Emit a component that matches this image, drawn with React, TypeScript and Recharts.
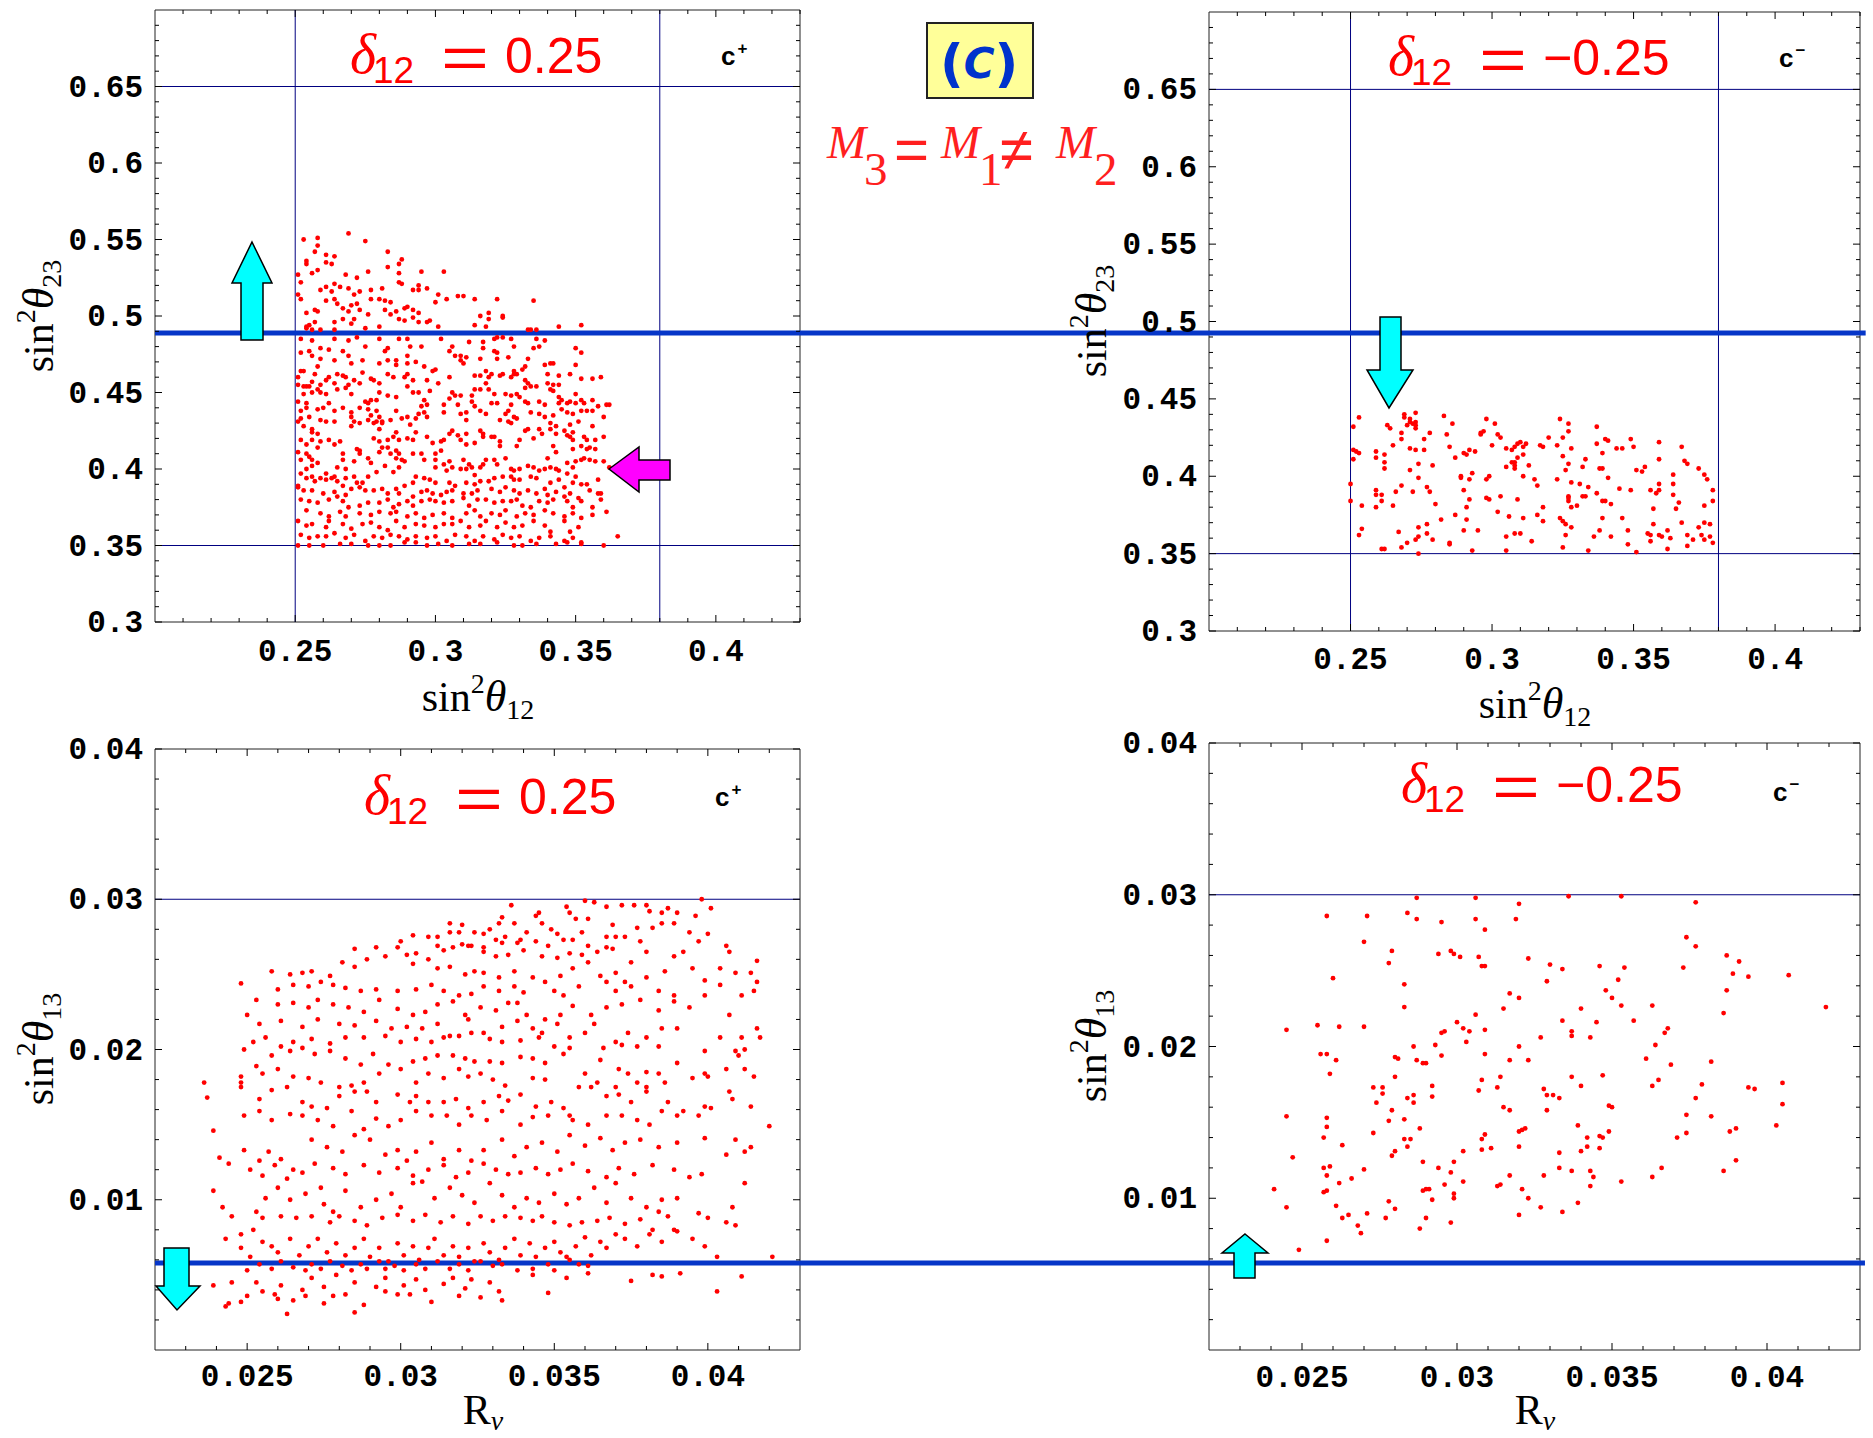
import React from 'react';
import { ScatterChart, Scatter, XAxis, YAxis, ReferenceLine, ReferenceArea } from 'recharts';

// sin^2(theta12) vs sin^2(theta23), delta12 = +0.25 (c+)
const tlPoints: [number, number][] = [
  [0.253,0.550],[0.258,0.551],[0.269,0.554],[0.275,0.549],[0.258,0.546],[0.257,0.542],[0.283,0.542],[0.261,0.540],[0.264,0.539],
  [0.254,0.536],[0.254,0.534],[0.261,0.535],[0.263,0.534],[0.258,0.530],[0.256,0.528],[0.276,0.529],[0.283,0.532],[0.287,0.534],[0.288,0.537],[0.287,0.528],[0.295,0.529],[0.303,0.529],[0.251,0.527],[0.252,0.522],[0.268,0.527],[0.272,0.525],[0.259,0.517],[0.261,0.519],[0.263,0.516],[0.264,0.521],[0.266,0.519],[0.269,0.518],[0.273,0.516],[0.277,0.517],[0.281,0.518],[0.287,0.522],[0.288,0.521],[0.292,0.517],[0.294,0.517],[0.294,0.520],[0.297,0.518],[0.271,0.514],
  [0.251,0.514],[0.252,0.511],[0.254,0.502],[0.257,0.504],[0.258,0.503],[0.261,0.510],[0.264,0.511],[0.265,0.508],[0.267,0.505],[0.269,0.503],[0.270,0.507],[0.272,0.508],[0.277,0.511],[0.280,0.511],[0.282,0.510],[0.284,0.509],[0.282,0.504],[0.284,0.501],[0.286,0.503],[0.289,0.505],[0.290,0.506],[0.292,0.504],[0.287,0.498],[0.289,0.497],[0.294,0.502],[0.297,0.496],[0.298,0.497],[0.300,0.509],[0.301,0.514],[0.304,0.511],[0.308,0.513],[0.310,0.513],[0.314,0.511],[0.322,0.511],[0.335,0.510],[0.316,0.500],[0.319,0.502],[0.319,0.498],[0.324,0.500],[0.324,0.499],[0.271,0.498],[0.267,0.498],[0.264,0.496],[0.270,0.495],[0.273,0.504],[0.276,0.501],[0.257,0.496],[0.254,0.493],[0.292,0.499],
  [0.255,0.494],[0.254,0.492],[0.256,0.491],[0.259,0.491],[0.264,0.491],[0.275,0.492],[0.280,0.493],[0.294,0.496],[0.301,0.493],[0.314,0.494],[0.318,0.493],[0.333,0.491],[0.336,0.491],[0.344,0.493],[0.352,0.494],[0.334,0.491],[0.252,0.485],[0.256,0.484],[0.255,0.477],[0.256,0.474],[0.259,0.479],[0.264,0.485],[0.269,0.484],[0.272,0.486],[0.275,0.480],[0.280,0.485],[0.282,0.477],[0.283,0.479],[0.287,0.485],[0.290,0.485],[0.291,0.480],[0.295,0.480],[0.302,0.485],[0.306,0.480],[0.312,0.483],[0.317,0.483],[0.321,0.485],[0.322,0.486],[0.324,0.486],[0.327,0.485],[0.328,0.480],[0.317,0.479],[0.321,0.477],[0.336,0.485],[0.339,0.484],[0.337,0.480],[0.335,0.479],[0.350,0.479],[0.352,0.476],[0.307,0.474],[0.309,0.474],[0.305,0.477],[0.262,0.478],[0.267,0.477],[0.252,0.476],
  [0.259,0.472],[0.264,0.471],[0.269,0.474],[0.270,0.469],[0.274,0.471],[0.280,0.469],[0.283,0.471],[0.286,0.471],[0.286,0.468],[0.290,0.474],[0.290,0.469],[0.293,0.470],[0.296,0.467],[0.300,0.465],[0.299,0.464],[0.309,0.471],[0.310,0.469],[0.311,0.473],[0.316,0.472],[0.322,0.476],[0.322,0.472],[0.326,0.473],[0.333,0.472],[0.332,0.467],[0.331,0.465],[0.328,0.464],[0.329,0.462],[0.339,0.468],[0.341,0.469],[0.342,0.469],[0.350,0.468],[0.252,0.464],[0.251,0.460],[0.253,0.464],[0.258,0.467],[0.257,0.462],[0.265,0.462],[0.262,0.460],[0.267,0.461],[0.268,0.460],[0.271,0.458],[0.273,0.456],[0.274,0.463],[0.277,0.459],[0.278,0.458],[0.280,0.456],[0.283,0.462],[0.285,0.460],[0.289,0.460],[0.290,0.462],[0.292,0.458],[0.297,0.458],[0.301,0.456],[0.305,0.460],[0.314,0.461],[0.316,0.461],[0.318,0.464],[0.319,0.460],[0.320,0.462],[0.323,0.461],[0.324,0.462],[0.327,0.460],[0.328,0.462],[0.332,0.458],[0.333,0.456],[0.332,0.453],[0.340,0.462],[0.344,0.461],[0.348,0.462],[0.352,0.459],[0.356,0.459],[0.359,0.460],[0.340,0.456],[0.342,0.455],[0.344,0.455],[0.251,0.455],[0.253,0.454],[0.256,0.457],[0.255,0.454],[0.261,0.458],[0.259,0.455],[0.264,0.456],[0.269,0.455],
  [0.254,0.454],[0.253,0.449],[0.256,0.450],[0.258,0.452],[0.259,0.450],[0.261,0.449],[0.265,0.452],[0.268,0.453],[0.270,0.449],[0.275,0.444],[0.276,0.443],[0.277,0.445],[0.279,0.445],[0.280,0.450],[0.283,0.448],[0.286,0.447],[0.290,0.454],[0.292,0.450],[0.294,0.450],[0.296,0.445],[0.297,0.442],[0.298,0.451],[0.306,0.450],[0.307,0.448],[0.309,0.448],[0.313,0.448],[0.314,0.452],[0.316,0.452],[0.318,0.456],[0.319,0.452],[0.321,0.449],[0.325,0.449],[0.327,0.448],[0.329,0.449],[0.330,0.447],[0.334,0.454],[0.336,0.454],[0.337,0.444],[0.341,0.452],[0.342,0.451],[0.344,0.447],[0.345,0.445],[0.347,0.443],[0.348,0.444],[0.350,0.449],[0.352,0.445],[0.353,0.443],[0.356,0.445],[0.358,0.441],[0.361,0.442],[0.251,0.444],[0.252,0.438],[0.254,0.443],[0.254,0.440],[0.258,0.439],[0.260,0.440],[0.262,0.443],[0.264,0.438],[0.267,0.440],[0.270,0.437],[0.273,0.440],[0.276,0.439],[0.277,0.435],[0.280,0.434],[0.279,0.438],[0.281,0.431],[0.284,0.432],[0.286,0.438],[0.288,0.433],[0.290,0.434],[0.293,0.433],[0.294,0.436],[0.296,0.437],[0.295,0.441],[0.297,0.434],[0.303,0.442],[0.303,0.437],[0.305,0.446],[0.308,0.442],[0.309,0.436],[0.311,0.437],[0.311,0.432],[0.313,0.444],[0.314,0.441],[0.316,0.438],[0.318,0.436],[0.320,0.443],[0.322,0.443],[0.323,0.432],[0.325,0.436],[0.327,0.442],[0.326,0.438],[0.328,0.434],[0.329,0.433],[0.332,0.444],[0.333,0.443],[0.334,0.437],[0.337,0.436],[0.339,0.442],[0.339,0.434],[0.342,0.435],[0.344,0.443],[0.345,0.439],[0.347,0.437],[0.349,0.436],[0.350,0.443],[0.352,0.438],[0.354,0.438],[0.356,0.438],[0.360,0.434],[0.362,0.442],[0.252,0.433],[0.255,0.434],[0.259,0.432],[0.261,0.431],[0.264,0.431],[0.270,0.434],[0.273,0.430],[0.276,0.432],[0.279,0.431],[0.281,0.430],
  [0.251,0.431],[0.253,0.428],[0.256,0.426],[0.256,0.424],[0.258,0.423],[0.256,0.419],[0.259,0.418],[0.258,0.414],[0.254,0.416],[0.252,0.419],[0.251,0.411],[0.254,0.410],[0.262,0.419],[0.264,0.416],[0.266,0.418],[0.270,0.428],[0.271,0.431],[0.278,0.430],[0.280,0.426],[0.278,0.420],[0.280,0.418],[0.283,0.419],[0.283,0.414],[0.285,0.421],[0.286,0.424],[0.287,0.419],[0.290,0.420],[0.291,0.429],[0.293,0.424],[0.292,0.419],[0.297,0.421],[0.299,0.417],[0.302,0.418],[0.303,0.419],[0.305,0.423],[0.306,0.425],[0.308,0.422],[0.311,0.423],[0.309,0.419],[0.311,0.416],[0.314,0.417],[0.316,0.425],[0.317,0.423],[0.317,0.421],[0.320,0.421],[0.321,0.421],[0.323,0.418],[0.323,0.415],[0.326,0.431],[0.327,0.430],[0.329,0.415],[0.330,0.419],[0.332,0.425],[0.333,0.426],[0.335,0.420],[0.338,0.423],[0.337,0.426],[0.341,0.430],[0.341,0.426],[0.343,0.428],[0.343,0.423],[0.346,0.425],[0.347,0.422],[0.348,0.421],[0.349,0.419],[0.349,0.424],[0.348,0.429],[0.351,0.431],[0.353,0.421],[0.354,0.419],[0.356,0.428],[0.357,0.419],[0.360,0.421],[0.349,0.413],[0.352,0.415],[0.354,0.413],[0.355,0.414],[0.357,0.413],[0.343,0.411],[0.342,0.415],[0.252,0.406],
  [0.255,0.408],[0.256,0.406],[0.258,0.404],[0.256,0.402],[0.254,0.400],[0.252,0.397],[0.251,0.389],[0.254,0.394],[0.256,0.395],[0.257,0.392],[0.259,0.394],[0.261,0.397],[0.261,0.393],[0.263,0.394],[0.264,0.395],[0.265,0.401],[0.267,0.410],[0.267,0.406],[0.268,0.400],[0.271,0.405],[0.272,0.413],[0.273,0.412],[0.273,0.410],[0.276,0.407],[0.277,0.404],[0.280,0.411],[0.281,0.414],[0.284,0.410],[0.286,0.412],[0.287,0.410],[0.288,0.406],[0.289,0.405],[0.286,0.407],[0.287,0.401],[0.285,0.398],[0.282,0.402],[0.279,0.398],[0.276,0.395],[0.274,0.391],[0.272,0.391],[0.271,0.395],[0.268,0.394],[0.267,0.389],[0.265,0.392],[0.292,0.410],[0.295,0.410],[0.296,0.406],[0.300,0.410],[0.300,0.406],[0.300,0.401],[0.302,0.412],[0.303,0.403],[0.304,0.399],[0.305,0.405],[0.306,0.401],[0.309,0.400],[0.310,0.406],[0.311,0.400],[0.312,0.403],[0.314,0.396],[0.313,0.401],[0.316,0.401],[0.317,0.403],[0.318,0.406],[0.321,0.406],[0.322,0.403],[0.325,0.407],[0.327,0.400],[0.328,0.399],[0.330,0.400],[0.333,0.402],[0.335,0.401],[0.337,0.399],[0.339,0.400],[0.340,0.407],[0.341,0.401],[0.343,0.400],[0.344,0.399],[0.347,0.404],[0.349,0.401],[0.350,0.405],[0.352,0.406],[0.353,0.407],[0.355,0.406],[0.357,0.405],[0.360,0.405],[0.362,0.401],[0.336,0.394],[0.334,0.395],[0.330,0.393],[0.328,0.393],[0.327,0.395],[0.324,0.395],[0.321,0.394],[0.319,0.392],[0.316,0.392],[0.314,0.390],[0.311,0.391],[0.307,0.389],[0.305,0.391],[0.300,0.391],[0.298,0.393],[0.296,0.394],[0.293,0.395],[0.292,0.391],[0.347,0.397],[0.350,0.395],[0.349,0.391],[0.352,0.390],[0.354,0.390],[0.358,0.393],[0.341,0.391],[0.344,0.393],[0.346,0.388],[0.289,0.389],
  [0.251,0.388],[0.253,0.386],[0.256,0.386],[0.260,0.384],[0.264,0.385],[0.265,0.382],[0.268,0.383],[0.270,0.387],[0.273,0.388],[0.275,0.386],[0.278,0.386],[0.281,0.387],[0.283,0.384],[0.286,0.387],[0.287,0.384],[0.292,0.382],[0.295,0.385],[0.297,0.386],[0.299,0.384],[0.302,0.383],[0.304,0.385],[0.306,0.386],[0.310,0.384],[0.313,0.384],[0.315,0.386],[0.320,0.387],[0.323,0.385],[0.325,0.388],[0.328,0.386],[0.330,0.384],[0.333,0.386],[0.336,0.384],[0.339,0.387],[0.340,0.383],[0.343,0.385],[0.346,0.382],[0.348,0.384],[0.351,0.381],[0.355,0.386],[0.358,0.384],[0.359,0.380],[0.252,0.380],[0.255,0.379],[0.258,0.378],[0.262,0.380],[0.267,0.379],[0.269,0.375],[0.273,0.376],[0.276,0.378],[0.280,0.378],[0.283,0.380],[0.285,0.375],[0.287,0.377],[0.290,0.379],[0.292,0.376],[0.295,0.379],[0.298,0.380],[0.300,0.379],[0.303,0.378],[0.306,0.379],[0.310,0.381],[0.312,0.376],[0.315,0.380],[0.318,0.380],[0.321,0.378],[0.324,0.379],[0.327,0.379],[0.329,0.380],[0.331,0.376],[0.334,0.375],[0.337,0.379],[0.340,0.378],[0.342,0.380],[0.347,0.379],[0.349,0.375],[0.352,0.379],[0.356,0.375],[0.254,0.373],[0.259,0.371],[0.262,0.369],[0.266,0.372],[0.268,0.369],[0.273,0.371],[0.277,0.370],[0.280,0.372],[0.284,0.371],[0.286,0.372],[0.290,0.369],[0.293,0.371],[0.296,0.368],[0.299,0.370],[0.303,0.371],[0.306,0.368],[0.311,0.371],[0.314,0.373],[0.316,0.369],[0.320,0.371],[0.323,0.370],[0.325,0.373],[0.329,0.369],[0.332,0.371],[0.335,0.370],[0.339,0.373],[0.342,0.371],[0.346,0.369],[0.349,0.371],[0.352,0.368],[0.356,0.370],[0.361,0.372],
  [0.251,0.366],[0.254,0.363],[0.256,0.364],[0.261,0.362],[0.262,0.366],[0.267,0.364],[0.270,0.361],[0.274,0.364],[0.277,0.365],[0.280,0.362],[0.283,0.360],[0.286,0.366],[0.289,0.362],[0.293,0.364],[0.296,0.363],[0.300,0.362],[0.303,0.364],[0.306,0.364],[0.309,0.366],[0.312,0.362],[0.316,0.363],[0.318,0.366],[0.322,0.362],[0.325,0.365],[0.328,0.362],[0.331,0.363],[0.335,0.366],[0.339,0.363],[0.341,0.359],[0.346,0.366],[0.348,0.359],[0.351,0.362],[0.252,0.357],[0.255,0.355],[0.258,0.356],[0.261,0.356],[0.264,0.358],[0.268,0.355],[0.271,0.357],[0.275,0.353],[0.278,0.356],[0.281,0.355],[0.284,0.357],[0.287,0.356],[0.290,0.354],[0.293,0.356],[0.297,0.355],[0.300,0.356],[0.304,0.353],[0.307,0.357],[0.311,0.356],[0.314,0.353],[0.317,0.356],[0.321,0.354],[0.324,0.357],[0.327,0.355],[0.330,0.356],[0.334,0.353],[0.337,0.355],[0.341,0.356],[0.346,0.353],[0.349,0.355],[0.352,0.352],[0.251,0.350],[0.255,0.350],[0.260,0.350],[0.266,0.351],[0.270,0.351],[0.276,0.350],[0.280,0.350],[0.284,0.350],[0.289,0.352],[0.293,0.352],[0.297,0.350],[0.301,0.351],[0.306,0.350],[0.312,0.351],[0.316,0.351],[0.322,0.352],[0.328,0.350],[0.331,0.350],[0.336,0.351],[0.343,0.351],[0.347,0.352],[0.352,0.351],[0.360,0.350],[0.365,0.356],[0.359,0.384],
];

// sin^2(theta12) vs sin^2(theta23), delta12 = -0.25 (c-)
const trPoints: [number, number][] = [
  [0.253,0.438],[0.251,0.432],[0.263,0.433],[0.264,0.431],[0.269,0.440],[0.269,0.438],[0.271,0.437],[0.271,0.435],[0.270,0.433],[0.272,0.434],[0.273,0.433],[0.273,0.431],[0.273,0.441],[0.273,0.435],[0.283,0.439],[0.286,0.434],[0.284,0.427],[0.268,0.428],[0.268,0.424],[0.276,0.424],[0.278,0.428],[0.265,0.420],[0.271,0.418],[0.273,0.417],[0.276,0.417],[0.251,0.417],[0.252,0.416],[0.253,0.415],[0.251,0.411],[0.259,0.416],[0.259,0.412],[0.262,0.414],[0.262,0.409],[0.262,0.405],[0.271,0.404],[0.274,0.408],[0.279,0.407],[0.285,0.419],[0.287,0.412],[0.290,0.415],[0.291,0.414],[0.292,0.417],[0.294,0.416],
  [0.298,0.437],[0.301,0.434],[0.296,0.427],[0.296,0.428],[0.297,0.429],[0.302,0.427],[0.303,0.425],[0.300,0.420],[0.305,0.418],[0.307,0.417],[0.308,0.419],[0.309,0.421],[0.310,0.422],[0.311,0.419],[0.312,0.421],[0.307,0.409],[0.308,0.409],[0.308,0.407],[0.308,0.405],[0.305,0.406],[0.309,0.412],[0.311,0.414],[0.313,0.407],[0.317,0.420],[0.318,0.419],[0.320,0.425],[0.324,0.437],[0.327,0.434],[0.327,0.429],[0.325,0.425],[0.323,0.420],[0.328,0.418],[0.325,0.413],[0.327,0.408],[0.326,0.404],
  [0.337,0.432],[0.337,0.421],[0.340,0.424],[0.341,0.423],[0.339,0.415],[0.333,0.411],[0.332,0.406],[0.338,0.405],[0.339,0.405],[0.344,0.418],[0.346,0.418],[0.349,0.424],[0.350,0.419],[0.341,0.399],[0.345,0.392],[0.349,0.391],[0.351,0.404],[0.353,0.403],[0.354,0.406],[0.359,0.422],[0.359,0.411],[0.367,0.419],[0.368,0.410],[0.369,0.408],[0.373,0.405],[0.375,0.401],[0.376,0.398],[0.364,0.401],[0.364,0.395],[0.364,0.388],[0.366,0.383],[0.365,0.379],[0.356,0.391],[0.359,0.391],[0.358,0.389],[0.359,0.395],[0.378,0.391],[0.378,0.384],[0.375,0.381],
  [0.250,0.395],[0.250,0.384],[0.254,0.381],[0.259,0.380],[0.259,0.391],[0.259,0.388],[0.261,0.388],[0.261,0.384],[0.265,0.381],[0.268,0.394],[0.266,0.390],[0.272,0.390],[0.274,0.399],[0.277,0.393],[0.278,0.390],[0.280,0.382],[0.289,0.400],[0.289,0.399],[0.292,0.398],[0.293,0.402],[0.298,0.398],[0.299,0.400],[0.290,0.391],[0.292,0.385],[0.291,0.380],[0.298,0.386],[0.299,0.385],[0.303,0.387],[0.309,0.385],[0.311,0.400],[0.315,0.398],[0.316,0.394],[0.318,0.380],[0.323,0.398],[0.328,0.396],[0.331,0.395],[0.334,0.393],[0.327,0.387],[0.327,0.386],[0.327,0.384],[0.328,0.380],[0.330,0.381],[0.332,0.387],[0.333,0.387],[0.337,0.389],[0.339,0.384],[0.340,0.384],[0.342,0.382],
  [0.254,0.366],[0.253,0.362],[0.267,0.364],[0.274,0.367],[0.274,0.361],[0.273,0.359],[0.277,0.363],[0.277,0.369],[0.279,0.359],[0.282,0.372],[0.287,0.375],[0.290,0.365],[0.291,0.372],[0.295,0.365],[0.302,0.377],[0.306,0.374],[0.311,0.373],[0.305,0.361],[0.308,0.363],[0.310,0.363],[0.316,0.375],[0.318,0.371],[0.314,0.358],[0.324,0.373],[0.325,0.371],[0.326,0.369],[0.328,0.367],[0.326,0.362],[0.325,0.354],[0.339,0.373],[0.338,0.365],[0.336,0.361],[0.342,0.361],[0.346,0.373],[0.348,0.365],[0.348,0.356],[0.357,0.379],[0.357,0.369],[0.355,0.363],[0.356,0.362],[0.359,0.362],[0.360,0.361],[0.362,0.365],[0.363,0.360],[0.356,0.358],[0.367,0.370],[0.369,0.362],[0.373,0.367],[0.371,0.359],[0.374,0.362],[0.375,0.370],[0.377,0.361],[0.377,0.369],[0.375,0.359],[0.369,0.355],[0.378,0.357],[0.362,0.353],[0.351,0.351],
  [0.261,0.353],[0.262,0.353],[0.268,0.354],[0.270,0.357],[0.274,0.350],[0.285,0.356],[0.285,0.357],[0.293,0.352],[0.305,0.352],[0.334,0.352],
];

// R_nu vs sin^2(theta13), delta12 = +0.25 (c+)
const blPoints: [number, number][] = [
  [0.0360,0.0299],[0.0354,0.0295],[0.0363,0.0298],[0.0367,0.0295],[0.0372,0.0296],[0.0376,0.0296],[0.0380,0.0296],[0.0387,0.0294],[0.0390,0.0291],[0.0398,0.0300],[0.0401,0.0294],[0.0336,0.0296],[0.0344,0.0289],[0.0345,0.0291],[0.0355,0.0291],[0.0357,0.0287],[0.0369,0.0283],[0.0381,0.0292],[0.0385,0.0284],[0.0389,0.0284],[0.0396,0.0289],[0.0333,0.0288],[0.0332,0.0284],[0.0329,0.0280],[0.0337,0.0284],[0.0346,0.0284],[0.0349,0.0280],[0.0351,0.0277],[0.0361,0.0287],[0.0370,0.0275],[0.0377,0.0281],[0.0385,0.0291],[0.0316,0.0284],[0.0320,0.0283],[0.0319,0.0278],[0.0324,0.0278],[0.0327,0.0277],[0.0331,0.0273],[0.0334,0.0275],[0.0339,0.0273],[0.0341,0.0278],[0.0356,0.0273],[0.0359,0.0278],[0.0367,0.0275],[0.0382,0.0281],[0.0394,0.0278],[0.0400,0.0277],[0.0406,0.0269],[0.0300,0.0272],[0.0304,0.0276],[0.0309,0.0275],[0.0312,0.0275],[0.0316,0.0278],[0.0312,0.0269],[0.0320,0.0270],[0.0323,0.0269],[0.0327,0.0268],[0.0333,0.0271],[0.0338,0.0271],[0.0344,0.0272],[0.0348,0.0269],[0.0353,0.0273],[0.0361,0.0269],[0.0367,0.0268],[0.0373,0.0275],[0.0378,0.0272],[0.0397,0.0272],[0.0392,0.0265],
  [0.0292,0.0268],[0.0285,0.0267],[0.0299,0.0268],[0.0302,0.0263],[0.0305,0.0264],[0.0314,0.0266],[0.0317,0.0268],[0.0322,0.0269],[0.0327,0.0265],[0.0331,0.0262],[0.0335,0.0263],[0.0340,0.0266],[0.0346,0.0262],[0.0351,0.0261],[0.0355,0.0264],[0.0359,0.0263],[0.0364,0.0265],[0.0369,0.0267],[0.0375,0.0258],[0.0380,0.0265],[0.0389,0.0262],[0.0407,0.0265],[0.0416,0.0259],[0.0258,0.0252],[0.0264,0.0250],[0.0268,0.0251],[0.0271,0.0252],[0.0277,0.0249],[0.0281,0.0258],[0.0285,0.0255],[0.0289,0.0260],[0.0295,0.0262],[0.0304,0.0257],[0.0309,0.0260],[0.0312,0.0254],[0.0316,0.0255],[0.0321,0.0250],[0.0324,0.0252],[0.0327,0.0251],[0.0332,0.0248],[0.0337,0.0252],[0.0343,0.0248],[0.0347,0.0245],[0.0352,0.0249],[0.0356,0.0254],[0.0361,0.0258],[0.0365,0.0249],[0.0370,0.0251],[0.0373,0.0245],[0.0380,0.0248],[0.0386,0.0252],[0.0395,0.0254],[0.0404,0.0254],[0.0409,0.0251],[0.0414,0.0251],[0.0248,0.0244],[0.0260,0.0240],[0.0265,0.0243],[0.0270,0.0242],[0.0274,0.0245],[0.0278,0.0243],[0.0282,0.0241],[0.0287,0.0239],[0.0292,0.0240],[0.0299,0.0239],[0.0305,0.0240],[0.0310,0.0243],[0.0314,0.0239],[0.0319,0.0236],[0.0323,0.0237],[0.0327,0.0242],[0.0332,0.0239],[0.0337,0.0242],[0.0340,0.0238],[0.0350,0.0239],[0.0353,0.0236],[0.0358,0.0242],[0.0367,0.0245],[0.0370,0.0239],[0.0375,0.0242],[0.0384,0.0239],[0.0389,0.0236],[0.0399,0.0246],[0.0404,0.0243],[0.0415,0.0239],[0.0416,0.0245],
  [0.0253,0.0233],[0.0260,0.0230],[0.0265,0.0231],[0.0270,0.0228],[0.0273,0.0233],[0.0278,0.0230],[0.0283,0.0228],[0.0288,0.0225],[0.0293,0.0233],[0.0299,0.0227],[0.0304,0.0223],[0.0308,0.0225],[0.0312,0.0230],[0.0317,0.0232],[0.0321,0.0223],[0.0326,0.0228],[0.0331,0.0226],[0.0335,0.0231],[0.0338,0.0231],[0.0341,0.0223],[0.0347,0.0220],[0.0352,0.0223],[0.0356,0.0229],[0.0362,0.0223],[0.0367,0.0228],[0.0372,0.0230],[0.0378,0.0233],[0.0384,0.0226],[0.0389,0.0232],[0.0394,0.0228],[0.0399,0.0236],[0.0407,0.0223],[0.0411,0.0236],[0.0254,0.0217],[0.0250,0.0223],[0.0261,0.0219],[0.0268,0.0215],[0.0273,0.0220],[0.0280,0.0217],[0.0285,0.0216],[0.0292,0.0219],[0.0297,0.0214],[0.0302,0.0215],[0.0307,0.0214],[0.0312,0.0217],[0.0316,0.0209],[0.0322,0.0220],[0.0327,0.0211],[0.0333,0.0215],[0.0338,0.0219],[0.0343,0.0214],[0.0346,0.0211],[0.0351,0.0217],[0.0355,0.0208],[0.0360,0.0211],[0.0363,0.0217],[0.0370,0.0205],[0.0374,0.0211],[0.0380,0.0208],[0.0385,0.0214],[0.0390,0.0214],[0.0404,0.0208],[0.0411,0.0208],[0.0416,0.0214],[0.0252,0.0205],[0.0256,0.0208],[0.0261,0.0202],[0.0265,0.0205],[0.0271,0.0207],[0.0277,0.0204],[0.0282,0.0208],[0.0288,0.0208],[0.0295,0.0209],[0.0300,0.0205],[0.0305,0.0207],[0.0310,0.0205],[0.0314,0.0208],[0.0319,0.0209],[0.0323,0.0211],[0.0329,0.0207],[0.0333,0.0205],[0.0339,0.0206],[0.0345,0.0208],[0.0350,0.0202],[0.0366,0.0201],[0.0372,0.0203],[0.0377,0.0202],[0.0384,0.0202],[0.0399,0.0199],[0.0412,0.0200],[0.0417,0.0208],
  [0.0249,0.0200],[0.0253,0.0189],[0.0258,0.0196],[0.0264,0.0199],[0.0268,0.0201],[0.0272,0.0197],[0.0277,0.0199],[0.0282,0.0194],[0.0287,0.0190],[0.0291,0.0197],[0.0296,0.0190],[0.0304,0.0192],[0.0308,0.0194],[0.0312,0.0196],[0.0317,0.0196],[0.0321,0.0194],[0.0324,0.0192],[0.0329,0.0192],[0.0333,0.0191],[0.0339,0.0195],[0.0343,0.0194],[0.0347,0.0191],[0.0353,0.0197],[0.0355,0.0201],[0.0365,0.0193],[0.0371,0.0187],[0.0374,0.0184],[0.0380,0.0185],[0.0384,0.0184],[0.0390,0.0191],[0.0399,0.0184],[0.0409,0.0199],[0.0410,0.0196],[0.0248,0.0178],[0.0248,0.0182],[0.0255,0.0184],[0.0260,0.0187],[0.0265,0.0182],[0.0270,0.0181],[0.0274,0.0178],[0.0280,0.0175],[0.0284,0.0176],[0.0288,0.0178],[0.0293,0.0184],[0.0300,0.0187],[0.0305,0.0178],[0.0309,0.0184],[0.0314,0.0181],[0.0319,0.0187],[0.0322,0.0182],[0.0326,0.0184],[0.0330,0.0180],[0.0334,0.0176],[0.0343,0.0181],[0.0347,0.0180],[0.0358,0.0175],[0.0360,0.0184],[0.0364,0.0178],[0.0370,0.0175],[0.0377,0.0178],[0.0380,0.0175],[0.0386,0.0178],[0.0395,0.0181],[0.0400,0.0182],[0.0406,0.0187],[0.0412,0.0187],[0.0415,0.0182],
  [0.0236,0.0178],[0.0237,0.0168],[0.0248,0.0175],[0.0254,0.0167],[0.0258,0.0173],[0.0263,0.0175],[0.0268,0.0165],[0.0271,0.0162],[0.0276,0.0161],[0.0280,0.0169],[0.0285,0.0172],[0.0289,0.0172],[0.0292,0.0165],[0.0299,0.0170],[0.0303,0.0165],[0.0305,0.0169],[0.0309,0.0165],[0.0314,0.0165],[0.0318,0.0167],[0.0322,0.0161],[0.0327,0.0165],[0.0332,0.0169],[0.0335,0.0166],[0.0339,0.0170],[0.0344,0.0162],[0.0349,0.0165],[0.0353,0.0161],[0.0355,0.0156],[0.0362,0.0175],[0.0367,0.0169],[0.0371,0.0170],[0.0375,0.0165],[0.0380,0.0172],[0.0387,0.0165],[0.0392,0.0159],[0.0399,0.0162],[0.0407,0.0172],[0.0408,0.0167],[0.0239,0.0146],[0.0249,0.0156],[0.0254,0.0159],[0.0258,0.0153],[0.0264,0.0157],[0.0268,0.0156],[0.0273,0.0153],[0.0278,0.0149],[0.0284,0.0159],[0.0288,0.0147],[0.0292,0.0154],[0.0296,0.0149],[0.0300,0.0153],[0.0305,0.0159],[0.0310,0.0156],[0.0315,0.0156],[0.0319,0.0150],[0.0323,0.0156],[0.0328,0.0153],[0.0333,0.0159],[0.0339,0.0150],[0.0343,0.0155],[0.0348,0.0156],[0.0356,0.0153],[0.0361,0.0150],[0.0367,0.0156],[0.0372,0.0156],[0.0377,0.0153],[0.0381,0.0150],[0.0385,0.0159],[0.0390,0.0156],[0.0397,0.0156],[0.0401,0.0161],[0.0414,0.0162],[0.0420,0.0149],
  [0.0241,0.0128],[0.0244,0.0124],[0.0249,0.0133],[0.0254,0.0126],[0.0257,0.0132],[0.0261,0.0127],[0.0265,0.0120],[0.0271,0.0140],[0.0276,0.0135],[0.0281,0.0132],[0.0285,0.0143],[0.0290,0.0140],[0.0295,0.0130],[0.0299,0.0133],[0.0302,0.0126],[0.0305,0.0132],[0.0310,0.0138],[0.0314,0.0127],[0.0319,0.0133],[0.0323,0.0126],[0.0327,0.0133],[0.0333,0.0140],[0.0337,0.0129],[0.0341,0.0135],[0.0346,0.0138],[0.0351,0.0132],[0.0355,0.0143],[0.0360,0.0136],[0.0365,0.0141],[0.0369,0.0133],[0.0373,0.0138],[0.0378,0.0140],[0.0384,0.0135],[0.0390,0.0138],[0.0399,0.0141],[0.0406,0.0130],[0.0414,0.0135],[0.0409,0.0140],[0.0251,0.0120],[0.0255,0.0116],[0.0259,0.0123],[0.0263,0.0114],[0.0268,0.0118],[0.0272,0.0124],[0.0278,0.0121],[0.0282,0.0117],[0.0288,0.0123],[0.0293,0.0118],[0.0299,0.0121],[0.0304,0.0116],[0.0309,0.0120],[0.0314,0.0123],[0.0318,0.0115],[0.0322,0.0118],[0.0327,0.0124],[0.0331,0.0120],[0.0335,0.0117],[0.0339,0.0118],[0.0344,0.0121],[0.0348,0.0117],[0.0352,0.0120],[0.0356,0.0124],[0.0361,0.0119],[0.0367,0.0115],[0.0371,0.0121],[0.0376,0.0117],[0.0382,0.0123],[0.0389,0.0120],[0.0394,0.0115],[0.0398,0.0117],[0.0412,0.0132],
  [0.0239,0.0106],[0.0242,0.0095],[0.0245,0.0089],[0.0248,0.0077],[0.0252,0.0080],[0.0256,0.0101],[0.0260,0.0108],[0.0264,0.0100],[0.0269,0.0104],[0.0274,0.0108],[0.0275,0.0097],[0.0278,0.0092],[0.0282,0.0106],[0.0287,0.0095],[0.0292,0.0100],[0.0297,0.0104],[0.0300,0.0095],[0.0304,0.0111],[0.0307,0.0112],[0.0311,0.0101],[0.0316,0.0108],[0.0320,0.0103],[0.0324,0.0098],[0.0329,0.0111],[0.0333,0.0103],[0.0337,0.0095],[0.0341,0.0101],[0.0345,0.0098],[0.0350,0.0104],[0.0354,0.0097],[0.0358,0.0101],[0.0363,0.0108],[0.0367,0.0098],[0.0370,0.0111],[0.0375,0.0101],[0.0380,0.0095],[0.0385,0.0100],[0.0390,0.0101],[0.0397,0.0091],[0.0408,0.0095],[0.0409,0.0083],[0.0412,0.0111],[0.0400,0.0088],[0.0406,0.0085],[0.0387,0.0089],[0.0384,0.0092],[0.0253,0.0092],[0.0255,0.0088],[0.0261,0.0089],[0.0266,0.0088],[0.0271,0.0089],[0.0277,0.0085],[0.0280,0.0089],[0.0285,0.0086],[0.0289,0.0083],[0.0294,0.0088],[0.0299,0.0090],[0.0304,0.0086],[0.0308,0.0090],[0.0313,0.0085],[0.0317,0.0089],[0.0322,0.0084],[0.0326,0.0089],[0.0330,0.0086],[0.0334,0.0089],[0.0339,0.0088],[0.0343,0.0086],[0.0346,0.0089],[0.0350,0.0085],[0.0355,0.0083],[0.0359,0.0085],[0.0364,0.0086],[0.0368,0.0088],[0.0373,0.0084],[0.0378,0.0087],[0.0382,0.0080],[0.0389,0.0080],
  [0.0243,0.0074],[0.0248,0.0068],[0.0251,0.0062],[0.0255,0.0072],[0.0258,0.0069],[0.0260,0.0065],[0.0264,0.0074],[0.0267,0.0063],[0.0270,0.0069],[0.0273,0.0074],[0.0276,0.0065],[0.0279,0.0071],[0.0282,0.0063],[0.0285,0.0068],[0.0288,0.0074],[0.0290,0.0062],[0.0293,0.0068],[0.0296,0.0059],[0.0299,0.0071],[0.0301,0.0063],[0.0304,0.0069],[0.0306,0.0060],[0.0309,0.0068],[0.0311,0.0074],[0.0314,0.0063],[0.0317,0.0069],[0.0319,0.0062],[0.0322,0.0068],[0.0324,0.0059],[0.0327,0.0071],[0.0329,0.0065],[0.0332,0.0060],[0.0334,0.0068],[0.0337,0.0074],[0.0339,0.0063],[0.0342,0.0071],[0.0344,0.0062],[0.0347,0.0068],[0.0350,0.0072],[0.0352,0.0065],[0.0355,0.0060],[0.0357,0.0069],[0.0360,0.0075],[0.0362,0.0063],[0.0365,0.0072],[0.0367,0.0068],[0.0370,0.0077],[0.0373,0.0074],[0.0377,0.0069],[0.0381,0.0077],[0.0385,0.0072],[0.0390,0.0079],[0.0395,0.0074],[0.0399,0.0069],[0.0403,0.0062],[0.0421,0.0062],[0.0250,0.0053],[0.0254,0.0057],[0.0258,0.0054],[0.0261,0.0059],[0.0265,0.0055],[0.0269,0.0053],[0.0271,0.0057],[0.0274,0.0054],[0.0277,0.0059],[0.0281,0.0056],[0.0284,0.0053],[0.0287,0.0057],[0.0289,0.0054],[0.0293,0.0059],[0.0295,0.0054],[0.0298,0.0056],[0.0301,0.0053],[0.0305,0.0057],[0.0308,0.0054],[0.0312,0.0059],[0.0316,0.0054],[0.0319,0.0057],[0.0322,0.0053],[0.0326,0.0059],[0.0330,0.0056],[0.0333,0.0057],[0.0338,0.0053],[0.0343,0.0054],[0.0348,0.0057],[0.0350,0.0053],[0.0354,0.0062],[0.0358,0.0057],[0.0361,0.0056],[0.0382,0.0050],
  [0.0239,0.0043],[0.0243,0.0029],[0.0245,0.0045],[0.0248,0.0032],[0.0253,0.0045],[0.0255,0.0039],[0.0259,0.0037],[0.0261,0.0043],[0.0265,0.0033],[0.0268,0.0040],[0.0271,0.0048],[0.0275,0.0042],[0.0279,0.0050],[0.0282,0.0037],[0.0285,0.0045],[0.0288,0.0030],[0.0292,0.0042],[0.0295,0.0048],[0.0299,0.0037],[0.0301,0.0043],[0.0305,0.0047],[0.0308,0.0040],[0.0310,0.0032],[0.0314,0.0044],[0.0317,0.0048],[0.0321,0.0041],[0.0323,0.0047],[0.0326,0.0035],[0.0329,0.0045],[0.0332,0.0039],[0.0333,0.0033],[0.0343,0.0050],[0.0348,0.0038],[0.0354,0.0048],[0.0361,0.0051],[0.0375,0.0046],[0.0385,0.0049],[0.0391,0.0051],[0.0411,0.0049],[0.0403,0.0039],[0.0263,0.0024],[0.0285,0.0025],[0.0275,0.0031],[0.0244,0.0031],[0.0250,0.0036],[0.0260,0.0034],[0.0269,0.0036],[0.0278,0.0036],[0.0295,0.0039],[0.0303,0.0037],[0.0319,0.0036],
];

// R_nu vs sin^2(theta13), delta12 = -0.25 (c-)
const brPoints: [number, number][] = [
  [0.0287,0.0298],[0.0306,0.0298],[0.0320,0.0294],[0.0336,0.0299],[0.0353,0.0299],[0.0377,0.0295],[0.0258,0.0286],[0.0271,0.0286],[0.0284,0.0288],[0.0287,0.0284],[0.0295,0.0282],[0.0306,0.0284],[0.0319,0.0284],[0.0309,0.0277],[0.0270,0.0269],[0.0279,0.0263],[0.0278,0.0255],[0.0294,0.0261],[0.0298,0.0263],[0.0299,0.0261],[0.0301,0.0259],[0.0307,0.0259],[0.0308,0.0253],[0.0309,0.0253],[0.0323,0.0258],[0.0330,0.0254],[0.0334,0.0251],[0.0346,0.0253],[0.0354,0.0252],[0.0374,0.0272],[0.0377,0.0266],[0.0373,0.0252],[0.0387,0.0260],[0.0391,0.0256],[0.0389,0.0248],[0.0394,0.0246],[0.0407,0.0247],[0.0387,0.0237],
  [0.0260,0.0245],[0.0283,0.0241],[0.0329,0.0243],[0.0352,0.0244],[0.0348,0.0237],[0.0350,0.0232],[0.0283,0.0226],[0.0317,0.0235],[0.0320,0.0232],[0.0315,0.0225],[0.0340,0.0225],[0.0353,0.0227],[0.0363,0.0227],[0.0386,0.0222],[0.0419,0.0226],[0.0357,0.0217],[0.0245,0.0211],[0.0255,0.0214],[0.0262,0.0213],[0.0270,0.0213],[0.0306,0.0221],[0.0334,0.0217],[0.0345,0.0216],[0.0368,0.0212],[0.0367,0.0209],[0.0327,0.0206],[0.0337,0.0207],[0.0337,0.0210],[0.0343,0.0206],[0.0295,0.0209],[0.0296,0.0210],[0.0300,0.0216],[0.0302,0.0212],[0.0304,0.0210],[0.0303,0.0203],[0.0309,0.0211],[0.0286,0.0200],[0.0293,0.0201],[0.0320,0.0200],[0.0364,0.0201],
  [0.0256,0.0195],[0.0258,0.0195],[0.0261,0.0191],[0.0259,0.0182],[0.0280,0.0193],[0.0281,0.0192],[0.0287,0.0191],[0.0289,0.0189],[0.0290,0.0189],[0.0295,0.0194],[0.0309,0.0195],[0.0317,0.0191],[0.0323,0.0191],[0.0361,0.0192],[0.0369,0.0188],[0.0382,0.0190],[0.0280,0.0180],[0.0308,0.0178],[0.0314,0.0180],[0.0337,0.0180],[0.0347,0.0181],[0.0365,0.0178],[0.0363,0.0174],[0.0379,0.0175],[0.0405,0.0176],[0.0394,0.0173],[0.0396,0.0172],[0.0273,0.0173],[0.0276,0.0173],[0.0276,0.0169],[0.0274,0.0163],[0.0284,0.0166],[0.0286,0.0168],[0.0286,0.0163],[0.0292,0.0167],[0.0292,0.0174],[0.0307,0.0171],[0.0313,0.0173],[0.0328,0.0172],[0.0329,0.0168],[0.0331,0.0168],[0.0333,0.0166],[0.0340,0.0174],[0.0377,0.0166],[0.0405,0.0162],[0.0315,0.0160],[0.0317,0.0158],[0.0329,0.0158],[0.0349,0.0161],[0.0350,0.0160],[0.0374,0.0155],[0.0382,0.0154],[0.0403,0.0148],
  [0.0245,0.0154],[0.0258,0.0153],[0.0258,0.0147],[0.0257,0.0140],[0.0263,0.0135],[0.0279,0.0158],[0.0278,0.0151],[0.0283,0.0152],[0.0273,0.0143],[0.0283,0.0139],[0.0285,0.0139],[0.0284,0.0134],[0.0280,0.0131],[0.0279,0.0128],[0.0288,0.0146],[0.0302,0.0131],[0.0308,0.0132],[0.0309,0.0142],[0.0308,0.0139],[0.0311,0.0133],[0.0320,0.0144],[0.0321,0.0145],[0.0322,0.0146],[0.0320,0.0134],[0.0339,0.0148],[0.0342,0.0140],[0.0346,0.0141],[0.0347,0.0140],[0.0349,0.0144],[0.0340,0.0131],[0.0342,0.0134],[0.0346,0.0133],[0.0333,0.0130],[0.0371,0.0140],[0.0374,0.0143],[0.0388,0.0144],[0.0390,0.0146],
  [0.0247,0.0127],[0.0257,0.0120],[0.0259,0.0121],[0.0258,0.0115],[0.0262,0.0110],[0.0266,0.0113],[0.0270,0.0119],[0.0289,0.0124],[0.0294,0.0120],[0.0299,0.0124],[0.0298,0.0117],[0.0302,0.0111],[0.0317,0.0115],[0.0328,0.0115],[0.0333,0.0120],[0.0337,0.0118],[0.0343,0.0118],[0.0344,0.0114],[0.0343,0.0108],[0.0353,0.0111],[0.0363,0.0114],[0.0366,0.0120],[0.0386,0.0118],[0.0390,0.0125],
  [0.0241,0.0106],[0.0245,0.0094],[0.0257,0.0104],[0.0258,0.0105],[0.0261,0.0095],[0.0263,0.0087],[0.0265,0.0089],[0.0268,0.0082],[0.0269,0.0077],[0.0271,0.0090],[0.0278,0.0098],[0.0280,0.0093],[0.0277,0.0087],[0.0289,0.0105],[0.0290,0.0106],[0.0291,0.0106],[0.0292,0.0099],[0.0296,0.0109],[0.0299,0.0100],[0.0299,0.0103],[0.0290,0.0087],[0.0288,0.0080],[0.0298,0.0084],[0.0313,0.0108],[0.0314,0.0109],[0.0321,0.0106],[0.0323,0.0100],[0.0327,0.0094],[0.0334,0.0091],[0.0339,0.0097],[0.0320,0.0089],[0.0249,0.0066],[0.0258,0.0072],
];

// tick labels
const th12Labels = [0.25, 0.3, 0.35, 0.4];
const th23Labels = [0.3, 0.35, 0.4, 0.45, 0.5, 0.55, 0.6, 0.65];
const rnuLabels = [0.025, 0.03, 0.035, 0.04];
const th13Labels = [0.01, 0.02, 0.03, 0.04];

// experimental bounds drawn on the panels
const th12Bounds = [0.25, 0.38];
const th23Bounds = [0.35, 0.65];
const th13Upper = 0.03;

const RED = '#ff0000';
const NAVY = '#000080';
const BAND = '#0636c8';
const MONO = '"Liberation Mono", "DejaVu Sans Mono", monospace';
const SERIF = '"Liberation Serif", "DejaVu Serif", serif';
const SANS = '"Liberation Sans", Arial, sans-serif';
const X_AXIS_H = 80;

const stepTicks = (from: number, to: number, step: number) => {
  const out: number[] = [];
  const n = Math.round((to - from) / step);
  for (let i = 0; i <= n; i++) out.push(Math.round((from + i * step) * 1e6) / 1e6);
  return out;
};

const isMajor = (v: number, majors: number[]) => majors.some((m) => Math.abs(m - v) < 1e-9);

const tickText = { fontFamily: MONO, fontWeight: 700, fontSize: 31, fill: '#000' };

function renderXTick(t: any, plotH: number, majors: number[], labelDy: number) {
  const { x, y, payload } = t;
  const major = isMajor(payload.value, majors);
  const len = major ? 7 : 4;
  return (
    <g>
      <line x1={x} x2={x} y1={y} y2={y - len} stroke="#000" />
      <line x1={x} x2={x} y1={y - plotH} y2={y - plotH + len} stroke="#000" />
      {major && (
        <text x={x} y={y + labelDy} textAnchor="middle" style={tickText}>{String(payload.value)}</text>
      )}
    </g>
  );
}

function renderYTick(t: any, plotW: number, majors: number[]) {
  const { x, y, payload } = t;
  const major = isMajor(payload.value, majors);
  const len = major ? 7 : 4;
  return (
    <g>
      <line x1={x} x2={x + len} y1={y} y2={y} stroke="#000" />
      <line x1={x + plotW} x2={x + plotW - len} y1={y} y2={y} stroke="#000" />
      {major && (
        <text x={x - 12} y={y + 10} textAnchor="end" style={tickText}>{String(payload.value)}</text>
      )}
    </g>
  );
}

interface PanelProps {
  left: number;
  top: number;
  axisW: number;
  padTop: number;
  padRight: number;
  plotW: number;
  plotH: number;
  xDomain: [number, number];
  yDomain: [number, number];
  xTicks: number[];
  xMajor: number[];
  yTicks: number[];
  yMajor: number[];
  labelDy: number;
  points: [number, number][];
  extras: React.ReactElement[];
}

function Panel(p: PanelProps) {
  const data = p.points.map(([x, y]) => ({ x, y }));
  return (
    <div style={{ position: 'absolute', left: p.left, top: p.top }}>
      <ScatterChart
        width={p.axisW + p.plotW + p.padRight}
        height={p.padTop + p.plotH + X_AXIS_H}
        margin={{ top: p.padTop, right: p.padRight, bottom: 0, left: 0 }}
      >
        <XAxis
          type="number"
          dataKey="x"
          domain={p.xDomain}
          allowDataOverflow
          ticks={p.xTicks}
          interval={0}
          axisLine={false}
          tickLine={false}
          tickSize={0}
          tickMargin={0}
          height={X_AXIS_H}
          tick={(t: any) => renderXTick(t, p.plotH, p.xMajor, p.labelDy)}
        />
        <YAxis
          type="number"
          dataKey="y"
          domain={p.yDomain}
          allowDataOverflow
          ticks={p.yTicks}
          interval={0}
          axisLine={false}
          tickLine={false}
          tickSize={0}
          tickMargin={0}
          width={p.axisW}
          tick={(t: any) => renderYTick(t, p.plotW, p.yMajor)}
        />
        <ReferenceArea
          x1={p.xDomain[0]}
          x2={p.xDomain[1]}
          y1={p.yDomain[0]}
          y2={p.yDomain[1]}
          fill="none"
          stroke="#222"
          strokeWidth={1}
          ifOverflow="visible"
        />
        {p.extras}
        <Scatter
          data={data}
          isAnimationActive={false}
          shape={(d: any) => <circle cx={d.cx} cy={d.cy} r={2.4} fill={RED} />}
        />
      </ScatterChart>
    </div>
  );
}

const thinLines = (xs: number[], ys: number[], tag: string) => [
  ...xs.map((v) => <ReferenceLine key={`${tag}x${v}`} x={v} stroke={NAVY} strokeWidth={1} />),
  ...ys.map((v) => <ReferenceLine key={`${tag}y${v}`} y={v} stroke={NAVY} strokeWidth={1} />),
];

// "delta_12 = value", y is the baseline of the value
function DeltaLabel({ x, y, value }: { x: number; y: number; value: string }) {
  return (
    <g fill={RED}>
      <text x={x} y={y} fontFamily={SERIF} fontStyle="italic" fontSize={56}>δ</text>
      <text x={x + 23} y={y + 10} fontFamily={SANS} fontSize={37}>12</text>
      <text x={x + 91} y={y + 5} fontFamily={SANS} fontSize={60} textLength={48} lengthAdjust="spacingAndGlyphs">=</text>
      <text x={x + 155} y={y} fontFamily={SANS} fontSize={50}>{value}</text>
    </g>
  );
}

function CaseLabel({ x, y, sign }: { x: number; y: number; sign: string }) {
  return (
    <text x={x} y={y} fill="#000" fontFamily={SANS} fontWeight={700} fontSize={26}>
      c<tspan fontSize={17} dx={2} dy={-11}>{sign}</tspan>
    </text>
  );
}

function SinLabel({ x, y, sub, rotate }: { x: number; y: number; sub: string; rotate?: boolean }) {
  return (
    <text
      x={x}
      y={y}
      textAnchor="middle"
      fontFamily={SERIF}
      fontSize={42}
      fill="#000"
      transform={rotate ? `rotate(-90 ${x} ${y})` : undefined}
    >
      sin
      <tspan fontSize={28} dy={-18}>2</tspan>
      <tspan fontStyle="italic" fontSize={44} dy={18}>θ</tspan>
      <tspan fontSize={28} dy={8}>{sub}</tspan>
    </text>
  );
}

function RnuLabel({ x, y }: { x: number; y: number }) {
  return (
    <text x={x} y={y} textAnchor="middle" fontFamily={SERIF} fontSize={42} fill="#000">
      R<tspan fontStyle="italic" fontSize={28} dy={6}>ν</tspan>
    </text>
  );
}

const arrowStyle = { stroke: '#000', strokeWidth: 1.5, strokeLinejoin: 'miter' as const };

export default function App() {
  const angTicksX = stepTicks(0.21, 0.43, 0.01);
  const angTicksY = stepTicks(0.3, 0.69, 0.01);
  const rnuTicks = stepTicks(0.023, 0.042, 0.001);
  const th13Ticks = stepTicks(0.002, 0.04, 0.002);

  return (
    <div style={{ position: 'absolute', left: 0, top: 0, width: 1873, height: 1438, background: '#fff' }}>
      <Panel
        left={15} top={0} axisW={140} padTop={10} padRight={20} plotW={645} plotH={612}
        xDomain={[0.2, 0.43]} yDomain={[0.3, 0.7]}
        xTicks={angTicksX} xMajor={th12Labels} yTicks={angTicksY} yMajor={th23Labels}
        labelDy={39} points={tlPoints}
        extras={[
          ...thinLines(th12Bounds, th23Bounds, 'tl'),
          <ReferenceLine key="tlband" y={0.4889} stroke={BAND} strokeWidth={5} />,
        ]}
      />
      <Panel
        left={800} top={0} axisW={409} padTop={12} padRight={13} plotW={651} plotH={619}
        xDomain={[0.2, 0.43]} yDomain={[0.3, 0.7]}
        xTicks={angTicksX} xMajor={th12Labels} yTicks={angTicksY} yMajor={th23Labels}
        labelDy={38} points={trPoints}
        extras={[
          ...thinLines(th12Bounds, th23Bounds, 'tr'),
          <ReferenceLine
            key="trband"
            segment={[{ x: 0.05, y: 0.4926 }, { x: 0.432, y: 0.4926 }]}
            ifOverflow="visible"
            stroke={BAND}
            strokeWidth={5}
          />,
        ]}
      />
      <Panel
        left={15} top={712} axisW={140} padTop={37} padRight={20} plotW={645} plotH={601}
        xDomain={[0.022, 0.043]} yDomain={[0, 0.04]}
        xTicks={rnuTicks} xMajor={rnuLabels} yTicks={th13Ticks} yMajor={th13Labels}
        labelDy={36} points={blPoints}
        extras={[
          ...thinLines([], [th13Upper], 'bl'),
          <ReferenceLine key="blband" y={0.00579} stroke={BAND} strokeWidth={5} />,
        ]}
      />
      <Panel
        left={800} top={712} axisW={409} padTop={31} padRight={13} plotW={651} plotH={607}
        xDomain={[0.022, 0.043]} yDomain={[0, 0.04]}
        xTicks={rnuTicks} xMajor={rnuLabels} yTicks={th13Ticks} yMajor={th13Labels}
        labelDy={37} points={brPoints}
        extras={[
          ...thinLines([], [th13Upper], 'br'),
          <ReferenceLine
            key="brband"
            segment={[{ x: 0.0085, y: 0.00573 }, { x: 0.04316, y: 0.00573 }]}
            ifOverflow="visible"
            stroke={BAND}
            strokeWidth={5}
          />,
        ]}
      />

      <svg
        width={1873}
        height={1438}
        style={{ position: 'absolute', left: 0, top: 0, pointerEvents: 'none' }}
      >
        <DeltaLabel x={350} y={73} value="0.25" />
        <DeltaLabel x={1388} y={75} value="−0.25" />
        <DeltaLabel x={364} y={814} value="0.25" />
        <DeltaLabel x={1401} y={802} value="−0.25" />

        <CaseLabel x={721} y={65} sign="+" />
        <CaseLabel x={1779} y={67} sign="−" />
        <CaseLabel x={715} y={806} sign="+" />
        <CaseLabel x={1773} y={801} sign="−" />

        <SinLabel x={478} y={711} sub="12" />
        <SinLabel x={1535} y={718} sub="12" />
        <SinLabel x={53} y={316} sub="23" rotate />
        <SinLabel x={1106} y={321} sub="23" rotate />
        <SinLabel x={53} y={1049} sub="13" rotate />
        <SinLabel x={1106} y={1046} sub="13" rotate />
        <RnuLabel x={483} y={1424} />
        <RnuLabel x={1535} y={1424} />

        <rect x={927} y={23} width={106} height={75} fill="#ffff99" stroke="#222" strokeWidth={2} />
        <text x={940} y={81} fill="#0033cc" fontFamily='"DejaVu Sans", sans-serif' fontWeight={700} fontSize={52}>
          (<tspan fontSize={42} fontStyle="italic" dy={-3}>C</tspan><tspan dy={3}>)</tspan>
        </text>

        <g fill="#ff1f1f">
          <text x={827} y={158} fontFamily={SERIF} fontStyle="italic" fontSize={47}>M</text>
          <text x={864} y={185} fontFamily={SERIF} fontSize={47}>3</text>
          <text x={894} y={170} fontFamily={SANS} fontSize={60}>=</text>
          <text x={941} y={158} fontFamily={SERIF} fontStyle="italic" fontSize={47}>M</text>
          <text x={979} y={185} fontFamily={SERIF} fontSize={47}>1</text>
          <text x={1000} y={170} fontFamily={SANS} fontSize={60}>≠</text>
          <text x={1056} y={158} fontFamily={SERIF} fontStyle="italic" fontSize={47}>M</text>
          <text x={1094} y={185} fontFamily={SERIF} fontSize={47}>2</text>
        </g>

        <polygon
          points="252,242 272,283 263,283 263,340 241,340 241,283 232,283"
          fill="#00ffff"
          {...arrowStyle}
        />
        <polygon
          points="1380,317 1401,317 1401,370 1413,370 1389,408 1367,370 1380,370"
          fill="#00ffff"
          {...arrowStyle}
        />
        <polygon
          points="164,1248 189,1248 189,1286 200,1286 177,1310 156,1286 164,1286"
          fill="#00ffff"
          {...arrowStyle}
        />
        <polygon
          points="1245,1234 1268,1253 1255,1253 1255,1278 1234,1278 1234,1253 1222,1253"
          fill="#00ffff"
          {...arrowStyle}
        />
        <polygon
          points="609,469 639,447 639,460 670,460 670,480 639,480 639,492"
          fill="#ff00ff"
          {...arrowStyle}
        />
      </svg>
    </div>
  );
}
